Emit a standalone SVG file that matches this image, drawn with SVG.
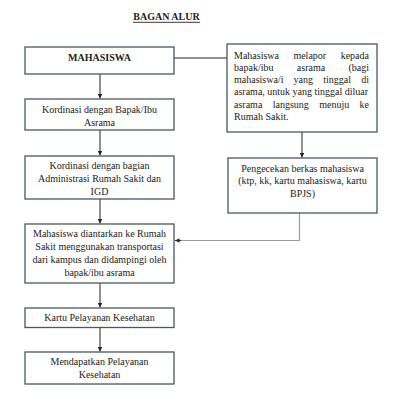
<svg xmlns="http://www.w3.org/2000/svg" width="405" height="402" viewBox="0 0 405 402">
<style>
  text { font-family: "Liberation Serif", "Times New Roman", serif; font-size: 10px; fill: #222; }
  .c { text-anchor: middle; }
  .e { text-anchor: end; }
  .b { font-weight: bold; }
  .box { fill: #fff; stroke: #4a5666; stroke-width: 1.3; }
  .ln { stroke: #222; stroke-width: 1; fill: none; }
  .gl { stroke: #9a9a9a; stroke-width: 1.2; fill: none; }
</style>
<defs>
  <marker id="ah" viewBox="0 0 8 8" refX="8" refY="4" markerWidth="4.5" markerHeight="4.5" orient="auto" markerUnits="userSpaceOnUse">
    <path d="M0,0 L8,4 L0,8 Z" fill="#222"/>
  </marker>
</defs>
<rect width="405" height="402" fill="#fff"/>
<g id="title">
  <text class="c b" x="166.5" y="20">BAGAN ALUR</text>
  <line x1="133" y1="22.3" x2="200" y2="22.3" stroke="#222" stroke-width="0.9"/>
</g>
<g id="connectors">
  <line class="ln" x1="174" y1="58" x2="227" y2="58"/>
  <line class="ln" x1="100" y1="74" x2="100" y2="98.5" marker-end="url(#ah)"/>
  <line class="ln" x1="100" y1="130" x2="100" y2="155.5" marker-end="url(#ah)"/>
  <line class="ln" x1="100" y1="199" x2="100" y2="223.5" marker-end="url(#ah)"/>
  <line class="ln" x1="100" y1="283" x2="100" y2="307.5" marker-end="url(#ah)"/>
  <line class="ln" x1="100" y1="327.5" x2="100" y2="351.5" marker-end="url(#ah)"/>
  <line class="ln" x1="302" y1="132" x2="302" y2="157.5" marker-end="url(#ah)"/>
  <polyline class="gl" points="299.5,213 299.5,240.5 180,240.5"/>
  <line class="ln" x1="181" y1="240.5" x2="175" y2="240.5" marker-end="url(#ah)"/>
</g>
<g id="n-mahasiswa">
  <rect class="box" x="25" y="47" width="149" height="27"/>
  <text class="c b" x="99.5" y="61">MAHASISWA</text>
</g>
<g id="n-lapor">
  <rect class="box" x="227" y="44" width="150" height="88"/>
  <text x="234" y="58.5">Mahasiswa</text>
  <text x="293.4" y="58.5">melapor</text>
  <text class="e" x="369" y="58.5">kepada</text>
  <text x="234" y="70.8">bapak/ibu</text>
  <text x="296.8" y="70.8">asrama</text>
  <text class="e" x="369" y="70.8">(bagi</text>
  <text x="234" y="83.1">mahasiswa/i</text>
  <text x="293.6" y="83.1">yang</text>
  <text x="323.3" y="83.1">tinggal</text>
  <text class="e" x="369" y="83.1">di</text>
  <text x="234" y="95.4">asrama, untuk yang tinggal diluar</text>
  <text x="234" y="107.7">asrama</text>
  <text x="272.7" y="107.7">langsung</text>
  <text x="319.2" y="107.7">menuju</text>
  <text class="e" x="369" y="107.7">ke</text>
  <text x="234" y="120">Rumah Sakit.</text>
</g>
<g id="n-kordinasi1">
  <rect class="box" x="25" y="99" width="149" height="31"/>
  <text class="c" x="99.5" y="113">Kordinasi dengan Bapak/Ibu</text>
  <text class="c" x="99.5" y="125.7">Asrama</text>
</g>
<g id="n-kordinasi2">
  <rect class="box" x="25" y="156" width="149" height="43"/>
  <text class="c" x="99.5" y="169">Kordinasi dengan bagian</text>
  <text class="c" x="99.5" y="182.2">Administrasi Rumah Sakit dan</text>
  <text class="c" x="99.5" y="195.4">IGD</text>
</g>
<g id="n-pengecekan">
  <rect class="box" x="228" y="158" width="149" height="55"/>
  <text class="c" x="302.5" y="171.5">Pengecekan berkas mahasiswa</text>
  <text class="c" x="302.5" y="184.2">(ktp, kk, kartu mahasiswa, kartu</text>
  <text class="c" x="302.5" y="197">BPJS)</text>
</g>
<g id="n-diantarkan">
  <rect class="box" x="25" y="224" width="149" height="59"/>
  <text class="c" x="99.5" y="237">Mahasiswa diantarkan ke Rumah</text>
  <text class="c" x="99.5" y="250">Sakit menggunakan transportasi</text>
  <text class="c" x="99.5" y="263">dari kampus dan didampingi oleh</text>
  <text class="c" x="99.5" y="276">bapak/ibu asrama</text>
</g>
<g id="n-kartu">
  <rect class="box" x="25" y="308" width="149" height="19.5"/>
  <text class="c" x="99.5" y="321.3">Kartu Pelayanan Kesehatan</text>
</g>
<g id="n-pelayanan">
  <rect class="box" x="25" y="352" width="149" height="32"/>
  <text class="c" x="99.5" y="364.5">Mendapatkan Pelayanan</text>
  <text class="c" x="99.5" y="377.8">Kesehatan</text>
</g>
</svg>
